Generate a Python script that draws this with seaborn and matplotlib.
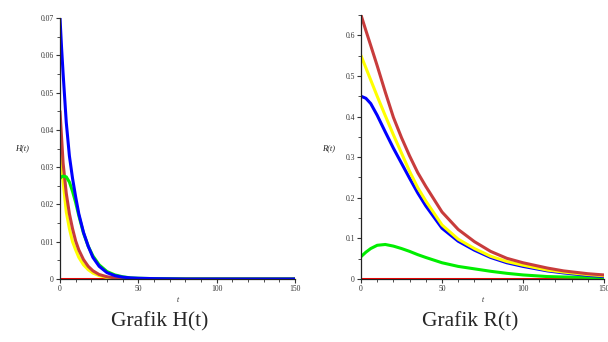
import numpy as np
import pandas as pd
import matplotlib
matplotlib.use("Agg")
import matplotlib.pyplot as plt
from matplotlib.ticker import MultipleLocator, FuncFormatter
import seaborn as sns

sns.set_style("white")
plt.rcParams['font.family'] = ['Liberation Serif', 'DejaVu Serif']

# ---- Data ----
t_H = [0, 1, 2, 4, 6, 8, 10, 12, 15, 18, 21, 25, 30, 35, 40, 45, 50, 60, 80, 100, 150]
H_blue = [0.070, 0.062, 0.055, 0.042, 0.033, 0.027, 0.022, 0.0175, 0.0125, 0.0088, 0.0058, 0.0034, 0.0017, 0.0009, 0.0005, 0.0003, 0.0002, 0.0001, 0.0, 0.0, 0.0]
H_brown = [0.045, 0.038, 0.031, 0.023, 0.0175, 0.0135, 0.0102, 0.0078, 0.0052, 0.0034, 0.0022, 0.0012, 0.0006, 0.0003, 0.0001, 0.0, 0.0, 0.0, 0.0, 0.0, 0.0]
H_yellow = [0.035, 0.030, 0.026, 0.018, 0.0135, 0.010, 0.0078, 0.0058, 0.0038, 0.0025, 0.0016, 0.0009, 0.0004, 0.0002, 0.0001, 0.0, 0.0, 0.0, 0.0, 0.0, 0.0]
H_green = [0.027, 0.0274, 0.0276, 0.0274, 0.026, 0.0235, 0.0205, 0.017, 0.0123, 0.0088, 0.0062, 0.0038, 0.002, 0.0011, 0.0006, 0.0003, 0.0002, 0.0001, 0.0, 0.0, 0.0]
H_red = [0.0] * 21

t_R = [0, 3, 6, 10, 15, 20, 25, 30, 35, 40, 50, 60, 70, 80, 90, 100, 115, 125, 140, 150]
R_brown = [0.650, 0.612, 0.575, 0.525, 0.460, 0.398, 0.348, 0.303, 0.262, 0.228, 0.165, 0.122, 0.092, 0.068, 0.051, 0.040, 0.027, 0.020, 0.013, 0.010]
R_yellow = [0.550, 0.520, 0.490, 0.450, 0.402, 0.355, 0.310, 0.265, 0.225, 0.192, 0.133, 0.098, 0.075, 0.056, 0.043, 0.034, 0.022, 0.017, 0.011, 0.008]
R_blue = [0.450, 0.445, 0.432, 0.403, 0.362, 0.322, 0.285, 0.248, 0.212, 0.180, 0.125, 0.093, 0.071, 0.053, 0.040, 0.031, 0.020, 0.015, 0.009, 0.006]
R_green = [0.055, 0.066, 0.075, 0.083, 0.085, 0.081, 0.075, 0.068, 0.060, 0.053, 0.040, 0.031, 0.025, 0.019, 0.014, 0.010, 0.006, 0.005, 0.004, 0.003]
R_red = [0.0] * 20

colors = {"brown": "#c83c3c", "yellow": "#ffff00", "blue": "#0000ff",
          "green": "#00ee00", "red": "#ff0000"}

dfH = pd.DataFrame({"t": t_H, "red": H_red, "yellow": H_yellow, "brown": H_brown,
                    "green": H_green, "blue": H_blue}).melt("t", var_name="s", value_name="v")
dfR = pd.DataFrame({"t": t_R, "red": R_red, "green": R_green, "blue": R_blue,
                    "yellow": R_yellow, "brown": R_brown}).melt("t", var_name="s", value_name="v")

fig = plt.figure(figsize=(6.08, 3.42), dpi=100)
axH = fig.add_axes([60/608, 1 - 279/342, 235/608, 261/342])
axR = fig.add_axes([361/608, 1 - 279/342, 243/608, 264/342])

sns.lineplot(data=dfH, x="t", y="v", hue="s", palette=colors, ax=axH,
             legend=False, linewidth=2.2, sort=False)
sns.lineplot(data=dfR, x="t", y="v", hue="s", palette=colors, ax=axR,
             legend=False, linewidth=2.2, sort=False)

axH.set_xlim(0, 150)
axH.set_ylim(0, 0.07)
axR.set_xlim(0, 150)
axR.set_ylim(0, 0.65)

axH.yaxis.set_major_locator(MultipleLocator(0.01))
axH.yaxis.set_minor_locator(MultipleLocator(0.005))
axR.yaxis.set_major_locator(MultipleLocator(0.1))
axR.yaxis.set_minor_locator(MultipleLocator(0.05))
axH.yaxis.set_major_formatter(FuncFormatter(lambda v, p: "0" if abs(v) < 1e-9 else f"{v:.2f}"))
axR.yaxis.set_major_formatter(FuncFormatter(lambda v, p: "0" if abs(v) < 1e-9 else f"{v:.1f}"))

for ax, lab, lx in [(axH, "H(t)", 15), (axR, "R(t)", 322)]:
    ax.xaxis.set_major_locator(MultipleLocator(50))
    ax.xaxis.set_minor_locator(MultipleLocator(10))
    ax.xaxis.set_major_formatter(FuncFormatter(lambda v, p: f"{v:.0f}"))
    ax.tick_params(axis="both", which="major", direction="out", length=3,
                   width=0.8, labelsize=5.5, pad=1.5, colors="#333333",
                   left=True, bottom=True)
    ax.tick_params(axis="both", which="minor", direction="out", length=2,
                   width=0.6, left=True, bottom=True, colors="#333333")
    for side in ["top", "right"]:
        ax.spines[side].set_visible(False)
    for side in ["left", "bottom"]:
        ax.spines[side].set_color("#222222")
        ax.spines[side].set_linewidth(0.9)
    ax.set_xlabel("t", fontsize=5.5, style="italic", labelpad=2)
    ax.set_ylabel("")
    fig.text(lx / 608, 1 - 148 / 342, lab, fontsize=6, style="italic",
             ha="left", va="center")
    ax.patch.set_alpha(0)

fig.text(160 / 608, 1 - 322 / 342, "Grafik H(t)", fontsize=15.5,
         ha="center", va="center")
fig.text(470 / 608, 1 - 322 / 342, "Grafik R(t)", fontsize=15.5,
         ha="center", va="center")

fig.savefig("out.png", dpi=100)
